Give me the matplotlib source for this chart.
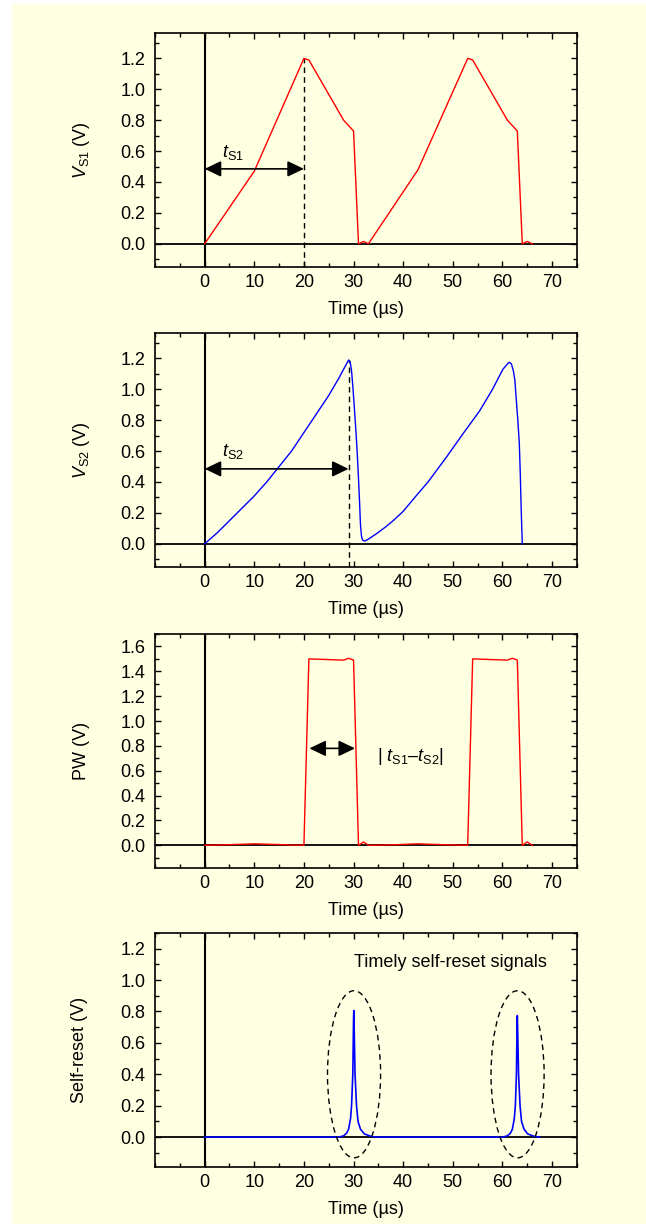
import matplotlib
matplotlib.use('Agg')
import matplotlib.pyplot as plt
from matplotlib.patches import Ellipse, Rectangle
from matplotlib.ticker import FixedLocator, MultipleLocator, FormatStrFormatter

plt.rcParams['font.family'] = ['Liberation Sans', 'DejaVu Sans']
plt.rcParams['mathtext.fontset'] = 'custom'
plt.rcParams['mathtext.rm'] = 'Liberation Sans'
plt.rcParams['mathtext.it'] = 'Liberation Sans:italic'
plt.rcParams['font.size'] = 13

# V_S1 (red)
t_s1 = [0, 10, 20, 21, 28, 30, 31, 32, 33, 43, 53, 54, 61, 63, 64, 65, 66]
v_s1 = [0, 0.47, 1.2, 1.19, 0.80, 0.73, 0.0, 0.015, 0.0, 0.48, 1.2, 1.19, 0.80, 0.73, 0.0, 0.015, 0.0]

# V_S2 (blue)
t_s2 = [0, 2.5, 5, 7.5, 10, 12.5, 15, 17.5, 20, 22.5, 25, 27, 28.5, 29, 29.3, 29.6, 29.9, 30.2, 30.5,
        30.8, 31.0, 31.2, 31.4, 31.6, 31.8, 32.2, 33.0, 34.6, 36.5, 38, 40, 42.6, 45, 48.7, 52, 55.4,
        58, 60.1, 60.9, 61.35, 61.8, 62.2, 62.5, 62.8, 63.1, 63.4, 63.6, 63.8, 64.0]
v_s2 = [0, 0.07, 0.15, 0.23, 0.31, 0.40, 0.50, 0.60, 0.72, 0.84, 0.96, 1.07, 1.16, 1.19, 1.18, 1.12,
        1.0, 0.86, 0.72, 0.55, 0.42, 0.28, 0.12, 0.05, 0.025, 0.017, 0.03, 0.065, 0.11, 0.15, 0.21,
        0.31, 0.40, 0.56, 0.71, 0.86, 1.0, 1.13, 1.16, 1.175, 1.165, 1.12, 1.06, 0.93, 0.8, 0.65,
        0.45, 0.2, 0.0]

# PW (red)
t_pw = [0, 5, 10, 15, 20, 21, 28, 29, 30, 31, 32, 33, 38, 43, 48, 53, 54, 61, 62, 63, 64, 65, 66]
v_pw = [0, 0.005, 0.012, 0.006, 0.0, 1.50, 1.49, 1.505, 1.49, 0.0, 0.027, 0.0, 0.004, 0.012, 0.005,
        0.0, 1.50, 1.49, 1.505, 1.49, 0.0, 0.027, 0.0]

# Self-reset (blue)
t_sr = [0, 27.0, 28.0, 28.6, 29.0, 29.4, 29.6, 29.85, 30.0, 30.05, 30.12, 30.3, 30.6, 30.9, 31.4, 32.2, 33.5, 34.5,
        60.0, 61.0, 61.6, 62.0, 62.4, 62.6, 62.82, 62.95, 63.0, 63.07, 63.25, 63.55, 63.85, 64.35, 65.1, 66.4, 67.5]
v_sr = [0, 0.0, 0.008, 0.025, 0.05, 0.12, 0.2, 0.4, 0.75, 0.806, 0.7, 0.4, 0.2, 0.1, 0.05, 0.02, 0.005, 0.0,
        0.0, 0.008, 0.025, 0.05, 0.12, 0.2, 0.4, 0.72, 0.774, 0.68, 0.4, 0.2, 0.1, 0.05, 0.02, 0.005, 0.0]

ts1, ts1_peak = 20, 1.2
ts2, ts2_peak = 29, 1.19
arrow_y = 0.485
pw_arrow = (21.1, 30.3, 0.78)
reset_centers = [30.1, 63.05]

x_major = [0, 10, 20, 30, 40, 50, 60, 70]
bg = '#FFFFE1'

fig = plt.figure(figsize=(6.46, 12.24), dpi=100)
fig.patch.set_facecolor('white')
fig.patches.append(Rectangle((12 / 646, 0), 1, 1 - 4 / 1224, transform=fig.transFigure,
                             facecolor=bg, edgecolor='none', zorder=-10))

bottoms = [0.7819, 0.5368, 0.2908, 0.0466]
ylims = [(-0.15, 1.365), (-0.15, 1.365), (-0.183, 1.70), (-0.19, 1.30)]
ymaxtick = [1.2, 1.2, 1.6, 1.2]
label_x = [-0.15, -0.15, -0.155, -0.16]
ylabels = [r'$V_{\mathrm{S1}}$ (V)', r'$V_{\mathrm{S2}}$ (V)', 'PW (V)', 'Self-reset (V)']

axes = []
for i in range(4):
    ax = fig.add_axes([0.240, bottoms[i], 0.653, 0.1912])
    ax.set_facecolor('none')
    ax.set_xlim(-10, 75)
    ax.set_ylim(*ylims[i])
    ax.xaxis.set_major_locator(FixedLocator(x_major))
    ax.xaxis.set_minor_locator(MultipleLocator(5))
    yt = [round(0.2 * k, 1) for k in range(int(round(ymaxtick[i] / 0.2)) + 1)]
    ax.yaxis.set_major_locator(FixedLocator(yt))
    ax.yaxis.set_minor_locator(MultipleLocator(0.1))
    ax.yaxis.set_major_formatter(FormatStrFormatter('%.1f'))
    ax.tick_params(which='both', direction='in', top=True, right=True, width=1.0)
    ax.tick_params(which='major', length=4.5)
    ax.tick_params(which='minor', length=3)
    ax.tick_params(axis='x', pad=5)
    ax.tick_params(axis='y', pad=7)
    for s in ax.spines.values():
        s.set_linewidth(1.2)
    ax.axhline(0, color='black', lw=1.3, zorder=2)
    ax.axvline(0, color='black', lw=1.5, zorder=2)
    ax.set_xlabel('Time (\u00b5s)', labelpad=7)
    ax.set_ylabel(ylabels[i])
    ax.yaxis.set_label_coords(label_x[i], 0.5)
    axes.append(ax)

arrow_kw = dict(arrowstyle='<|-|>,head_length=0.5,head_width=0.24', color='black', lw=1.2,
                mutation_scale=20, shrinkA=0, shrinkB=0)

# panel 1
ax = axes[0]
ax.plot(t_s1, v_s1, color='#FF0000', lw=1.0, zorder=3)
ax.vlines(ts1, ylims[0][0], ts1_peak, colors='black', linestyles=(0, (4, 3)), lw=1.0, zorder=2)
ax.annotate('', xy=(ts1, arrow_y), xytext=(0, arrow_y), arrowprops=arrow_kw)
ax.text(3.5, 0.565, r'$t_{\mathrm{S1}}$', ha='left', va='baseline', fontsize=13)

# panel 2
ax = axes[1]
ax.plot(t_s2, v_s2, color='#0000FF', lw=1.0, zorder=3)
ax.vlines(ts2, ylims[1][0], ts2_peak, colors='black', linestyles=(0, (4, 3)), lw=1.0, zorder=2)
ax.annotate('', xy=(ts2, arrow_y), xytext=(0, arrow_y), arrowprops=arrow_kw)
ax.text(3.5, 0.57, r'$t_{\mathrm{S2}}$', ha='left', va='baseline', fontsize=13)

# panel 3
ax = axes[2]
ax.plot(t_pw, v_pw, color='#FF0000', lw=1.0, zorder=3)
ax.annotate('', xy=(pw_arrow[1], pw_arrow[2]), xytext=(pw_arrow[0], pw_arrow[2]), arrowprops=arrow_kw)
ax.text(34.8, 0.68, '| $t_{\\mathrm{S1}}$\u2013$t_{\\mathrm{S2}}$|', ha='left', va='baseline', fontsize=13)

# panel 4
ax = axes[3]
ax.plot(t_sr, v_sr, color='#0000FF', lw=1.2, zorder=3)
for c in reset_centers:
    ax.add_patch(Ellipse((c, 0.40), 10.7, 1.064, fill=False, edgecolor='black',
                         lw=1.0, linestyle=(0, (4, 3)), zorder=4))
ax.text(49.5, 1.11, 'Timely self-reset signals', ha='center', va='center', fontsize=13)

fig.savefig('out.png', dpi=100, facecolor=fig.get_facecolor())
